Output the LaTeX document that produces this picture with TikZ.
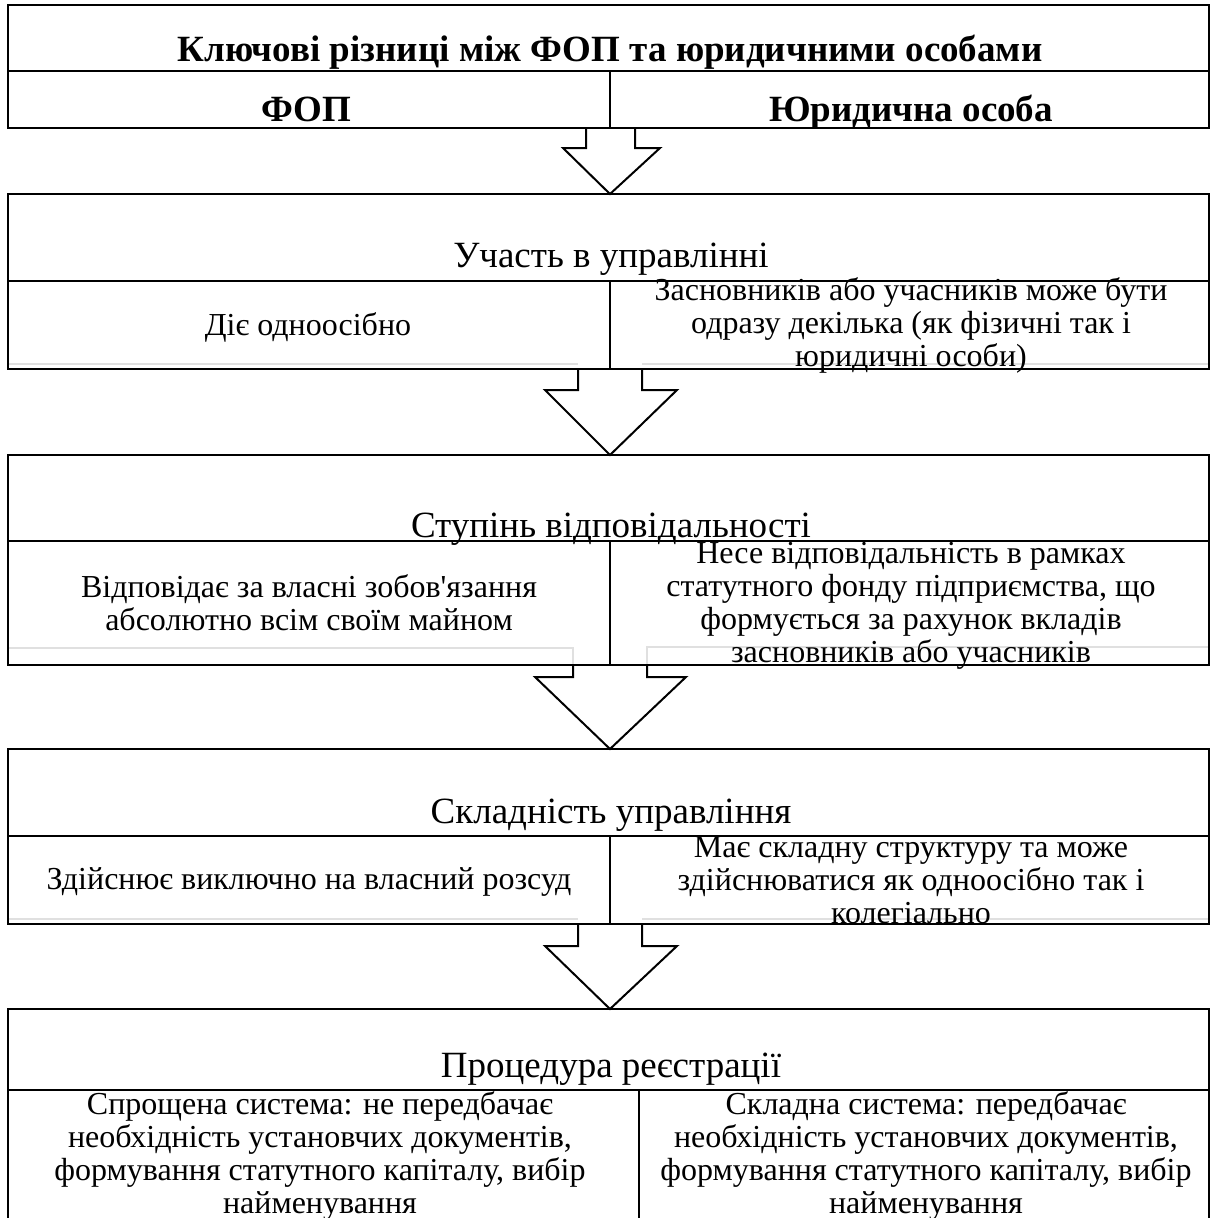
\documentclass[tikz,border=0pt]{standalone}
\usepackage{fontspec}
\setmainfont{Liberation Serif}[Ligatures=TeXOff]
\usetikzlibrary{calc}
\begin{document}
\begin{tikzpicture}[x=1pt,y=-1pt,
  cell/.style={draw, line width=2pt, inner sep=0pt, outer sep=0pt, anchor=north west},
  arr/.style={draw, line width=2pt, line join=miter},
  ghost/.style={draw=black!12, line width=1.6pt},
  boldtxt/.style={font=\bfseries\fontsize{37}{40}\selectfont, anchor=base, inner sep=0pt},
  subtxt/.style={font=\fontsize{37}{40}\selectfont, anchor=base, inner sep=0pt},
  bodytxt/.style={font=\fontsize{32}{33}\selectfont, align=center, anchor=north, inner sep=0pt},
  onetxt/.style={font=\fontsize{32}{33}\selectfont, anchor=base, inner sep=0pt}]
\useasboundingbox (0,0) rectangle (1212,1218);
\fill[white] (0,0) rectangle (1212,1218);

% faint shadow lines
\draw[ghost] (8,364) -- (578,364);
\draw[ghost] (642,364) -- (1209,364);
\draw[ghost] (8,648) -- (573,648) -- (573,665);
\draw[ghost] (1209,647) -- (647,647) -- (647,665);
\draw[ghost] (8,919) -- (578,919);
\draw[ghost] (642,919) -- (1209,919);

% block 1: header
\node[cell, minimum width=1201pt, minimum height=66pt] (t) at (8,5) {};
\node[cell, minimum width=602pt, minimum height=57pt] (h1) at (8,71) {};
\node[cell, minimum width=599pt, minimum height=57pt] (h2) at (610,71) {};
% block 2
\node[cell, minimum width=1201pt, minimum height=87pt] (u) at (8,194) {};
\node[cell, minimum width=602pt, minimum height=88pt] (u1) at (8,281) {};
\node[cell, minimum width=599pt, minimum height=88pt] (u2) at (610,281) {};
% block 3
\node[cell, minimum width=1201pt, minimum height=86pt] (s) at (8,455) {};
\node[cell, minimum width=602pt, minimum height=124pt] (s1) at (8,541) {};
\node[cell, minimum width=599pt, minimum height=124pt] (s2) at (610,541) {};
% block 4
\node[cell, minimum width=1201pt, minimum height=87pt] (k) at (8,749) {};
\node[cell, minimum width=602pt, minimum height=88pt] (k1) at (8,836) {};
\node[cell, minimum width=599pt, minimum height=88pt] (k2) at (610,836) {};
% block 5
\node[cell, minimum width=1201pt, minimum height=81pt] (p) at (8,1009) {};
\node[cell, minimum width=631pt, minimum height=150pt] (p1) at (8,1090) {};
\node[cell, minimum width=570pt, minimum height=150pt] (p2) at (639,1090) {};

% arrows
\coordinate (a1) at (h1.south east);
\coordinate (a2) at (u1.south east);
\coordinate (a3) at (s1.south east);
\coordinate (a4) at (k1.south east);
\draw[arr] ($(a1)+(-24,0)$) -- ($(a1)+(-24,20)$) -- ($(a1)+(-47,20)$) -- (a1 |- u.north)
  -- ($(a1)+(50,20)$) -- ($(a1)+(25,20)$) -- ($(a1)+(25,0)$);
\draw[arr] ($(a2)+(-32,0)$) -- ($(a2)+(-32,21)$) -- ($(a2)+(-65,21)$) -- (a2 |- s.north)
  -- ($(a2)+(67,21)$) -- ($(a2)+(32,21)$) -- ($(a2)+(32,0)$);
\draw[arr] ($(a3)+(-37,0)$) -- ($(a3)+(-37,12)$) -- ($(a3)+(-75,12)$) -- (a3 |- k.north)
  -- ($(a3)+(76,12)$) -- ($(a3)+(37,12)$) -- ($(a3)+(37,0)$);
\draw[arr] ($(a4)+(-32,0)$) -- ($(a4)+(-32,22)$) -- ($(a4)+(-65,22)$) -- (a4 |- p.north)
  -- ($(a4)+(67,22)$) -- ($(a4)+(32,22)$) -- ($(a4)+(32,0)$);

% texts
\node[boldtxt] (tt) at (610,61) {Ключові різниці між ФОП та юридичними особами};
\node[boldtxt] (ht1) at (306,121) {ФОП};
\node[boldtxt] (ht2) at (911,121) {Юридична особа};

\node[subtxt] (ut) at (611,267) {Участь в управлінні};
\node[onetxt] (ut1) at (308,335) {Діє одноосібно};
\node[bodytxt] (ut2) at (911,277) {\strut Засновників або учасників може бути\\ одразу декілька (як фізичні так і\\ юридичні особи)\strut};

\node[subtxt] (st) at (611,537) {Ступінь відповідальності};
\node[bodytxt] (st1) at (309,574) {\strut Відповідає за власні зобов'язання\\ абсолютно всім своїм майном\strut};
\node[bodytxt] (st2) at (911,540) {\strut Несе відповідальність в рамках\\ статутного фонду підприємства, що\\ формується за рахунок вкладів\\ засновників або учасників\strut};

\node[subtxt] (kt) at (611,823) {Складність управління};
\node[onetxt] (kt1) at (309,889) {Здійснює виключно на власний розсуд};
\node[bodytxt] (kt2) at (911,834) {\strut Має складну структуру та може\\ здійснюватися як одноосібно так і\\ колегіально\strut};

\node[subtxt] (pt) at (611,1077) {Процедура реєстрації};
\node[bodytxt] (pt1) at (320,1091) {\strut Спрощена система: не передбачає\\ необхідність установчих документів,\\ формування статутного капіталу, вибір\\ найменування\strut};
\node[bodytxt] (pt2) at (926,1091) {\strut Складна система: передбачає\\ необхідність установчих документів,\\ формування статутного капіталу, вибір\\ найменування\strut};
\end{tikzpicture}
\end{document}
